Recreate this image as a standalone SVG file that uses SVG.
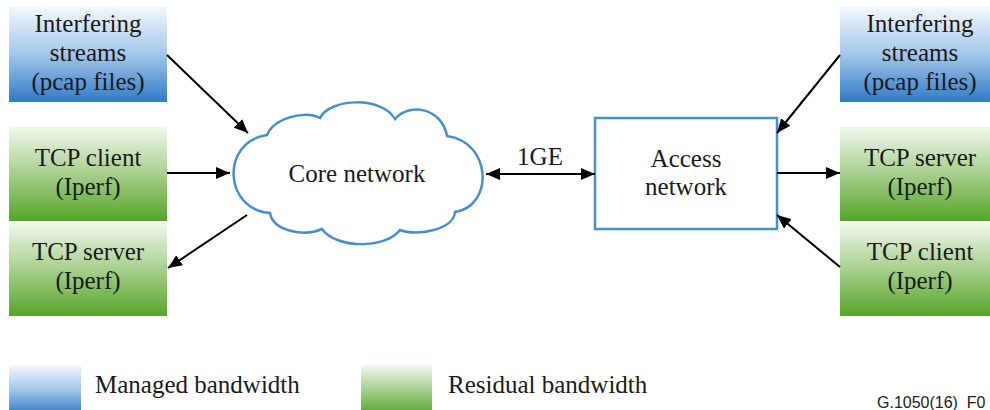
<svg xmlns="http://www.w3.org/2000/svg" width="990" height="410" viewBox="0 0 990 410">
  <defs>
    <linearGradient id="gradManaged" x1="0" y1="0" x2="0" y2="1">
      <stop offset="0" stop-color="#f4f8fd"/>
      <stop offset="0.5" stop-color="#a3c6ea"/>
      <stop offset="1" stop-color="#2f7bc6"/>
    </linearGradient>
    <linearGradient id="gradResidual" x1="0" y1="0" x2="0" y2="1">
      <stop offset="0" stop-color="#f2f8ee"/>
      <stop offset="0.5" stop-color="#a6cf8c"/>
      <stop offset="1" stop-color="#56a52a"/>
    </linearGradient>
    <marker id="arrow" viewBox="0 0 14 12" refX="14" refY="6" markerWidth="14" markerHeight="12" markerUnits="userSpaceOnUse" orient="auto-start-reverse">
      <path d="M0,0 L14,6 L0,12 Z" fill="#000"/>
    </marker>
  </defs>
  <style>
    .lbl { font-family: 'Liberation Serif', Tinos, 'DejaVu Serif', 'Noto Serif', 'Times New Roman', serif; font-size: 25px; fill: #1a1a1a; text-anchor: middle; }
    .leg { font-family: 'Liberation Serif', Tinos, 'DejaVu Serif', 'Noto Serif', 'Times New Roman', serif; font-size: 25px; fill: #1a1a1a; }
    .managed { fill: url(#gradManaged); }
    .residual { fill: url(#gradResidual); }
    .net { fill: #fff; stroke: #4a8dcd; stroke-width: 2.5; }
    .conn { stroke: #000; stroke-width: 2; fill: none; marker-end: url(#arrow); }
    .tag { font-family: 'Liberation Sans', Arial, sans-serif; font-size: 16px; fill: #222; }
  </style>

  <!-- left side sources / sinks -->
  <g id="left-interfering">
    <rect class="managed" x="9" y="7" width="158" height="95"/>
    <text class="lbl" x="88" y="32">Interfering</text>
    <text class="lbl" x="88" y="61">streams</text>
    <text class="lbl" x="88" y="90">(pcap files)</text>
  </g>
  <g id="left-tcp-client">
    <rect class="residual" x="9" y="127" width="158" height="94"/>
    <text class="lbl" x="88" y="166">TCP client</text>
    <text class="lbl" x="88" y="195">(Iperf)</text>
  </g>
  <g id="left-tcp-server">
    <rect class="residual" x="9" y="223" width="158" height="93"/>
    <text class="lbl" x="88" y="260">TCP server</text>
    <text class="lbl" x="88" y="289">(Iperf)</text>
  </g>

  <!-- core network cloud -->
  <g id="core-network">
    <path class="net" d="M267,135 C274,118 305,110 320,118 C330,98 382,96 395,119 C410,102 442,108 447,136 C492,142 494,206 455,212 C454,229 418,237 400,230 C386,249 336,249 322,229 C304,237 273,231 270,213 C224,210 220,142 267,135 Z"/>
    <text class="lbl" x="357" y="182">Core network</text>
  </g>

  <!-- access network -->
  <g id="access-network">
    <rect class="net" x="595" y="118" width="182" height="111"/>
    <text class="lbl" x="686" y="167">Access</text>
    <text class="lbl" x="686" y="195">network</text>
  </g>

  <!-- right side sources / sinks -->
  <g id="right-interfering">
    <rect class="managed" x="840" y="7" width="160" height="95"/>
    <text class="lbl" x="920" y="32">Interfering</text>
    <text class="lbl" x="920" y="61">streams</text>
    <text class="lbl" x="920" y="90">(pcap files)</text>
  </g>
  <g id="right-tcp-server">
    <rect class="residual" x="840" y="127" width="160" height="94"/>
    <text class="lbl" x="920" y="166">TCP server</text>
    <text class="lbl" x="920" y="195">(Iperf)</text>
  </g>
  <g id="right-tcp-client">
    <rect class="residual" x="840" y="223" width="160" height="93"/>
    <text class="lbl" x="920" y="260">TCP client</text>
    <text class="lbl" x="920" y="289">(Iperf)</text>
  </g>

  <!-- connectors -->
  <g id="connectors">
    <line class="conn" x1="167" y1="55" x2="248" y2="133"/>
    <line class="conn" x1="167" y1="173" x2="230" y2="173"/>
    <line class="conn" x1="247" y1="215" x2="168" y2="268"/>
    <line class="conn" x1="486" y1="174" x2="595" y2="174" marker-start="url(#arrow)"/>
    <line class="conn" x1="840" y1="55" x2="777" y2="133"/>
    <line class="conn" x1="777" y1="173" x2="840" y2="173"/>
    <line class="conn" x1="840" y1="267" x2="777" y2="215"/>
    <text class="lbl" x="540" y="165">1GE</text>
  </g>

  <!-- legend -->
  <g id="legend">
    <rect class="managed" x="9" y="365" width="72" height="50"/>
    <text class="leg" x="95" y="393">Managed bandwidth</text>
    <rect class="residual" x="361" y="365" width="71" height="50"/>
    <text class="leg" x="448" y="393">Residual bandwidth</text>
  </g>
  <text class="tag" x="877" y="408" xml:space="preserve">G.1050(16)  F0</text>
</svg>
